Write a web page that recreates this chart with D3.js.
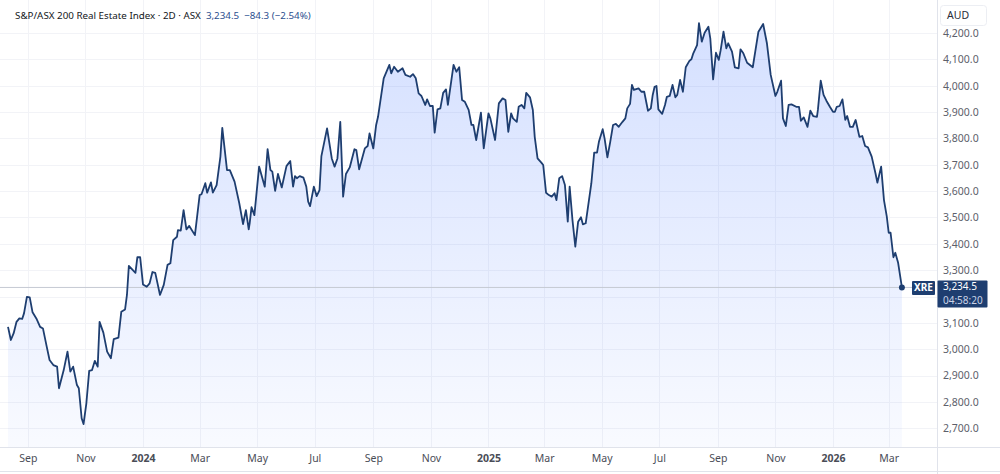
<!DOCTYPE html>
<html>
<head>
<meta charset="utf-8">
<script src="https://cdn.jsdelivr.net/npm/d3@7"></script>
<style>
  body { margin: 0; background: #fff; }
  svg { display: block; font-family: "Noto Sans", "DejaVu Sans", sans-serif; }
</style>
</head>
<body>
<svg width="1000" height="474"></svg>
<script>
var title = "S&P/ASX 200 Real Estate Index · 2D · ASX",
    lastText = "3,234.5",
    changeText = "\u221284.3 (\u22122.54%)",
    symbol = "XRE",
    currency = "AUD",
    countdown = "04:58:20";

var dates = [
  "2023-08-11","2023-08-14","2023-08-17","2023-08-20","2023-08-23","2023-08-26","2023-08-28","2023-08-31",
  "2023-09-03","2023-09-06","2023-09-10","2023-09-14","2023-09-17","2023-09-21","2023-09-24","2023-09-28",
  "2023-10-02","2023-10-04","2023-10-09","2023-10-13","2023-10-16","2023-10-19","2023-10-23","2023-10-25",
  "2023-10-28","2023-10-30","2023-11-02","2023-11-05","2023-11-08","2023-11-11","2023-11-14","2023-11-16",
  "2023-11-20","2023-11-24","2023-11-28","2023-12-01","2023-12-06","2023-12-09","2023-12-13","2023-12-15",
  "2023-12-17","2023-12-24","2023-12-26","2023-12-29","2024-01-01","2024-01-05","2024-01-08","2024-01-11",
  "2024-01-14","2024-01-19","2024-01-23","2024-01-27","2024-01-30","2024-02-02","2024-02-06","2024-02-07",
  "2024-02-10","2024-02-13","2024-02-16","2024-02-19","2024-02-25","2024-03-01","2024-03-03","2024-03-07",
  "2024-03-09","2024-03-13","2024-03-15","2024-03-19","2024-03-23","2024-03-25","2024-03-30","2024-04-02",
  "2024-04-07","2024-04-12","2024-04-16","2024-04-19","2024-04-22","2024-04-23","2024-04-25","2024-04-28",
  "2024-05-03","2024-05-09","2024-05-12","2024-05-15","2024-05-17","2024-05-20","2024-05-23","2024-05-27",
  "2024-06-01","2024-06-05","2024-06-08","2024-06-10","2024-06-12","2024-06-15","2024-06-19","2024-06-22",
  "2024-06-24","2024-06-26","2024-06-30","2024-07-03","2024-07-06","2024-07-08","2024-07-14","2024-07-19",
  "2024-07-22","2024-07-25","2024-07-28","2024-07-31","2024-08-03","2024-08-07","2024-08-12","2024-08-14",
  "2024-08-17","2024-08-23","2024-08-26","2024-08-28","2024-09-01","2024-09-04","2024-09-06","2024-09-12",
  "2024-09-18","2024-09-20","2024-09-23","2024-09-27","2024-10-02","2024-10-05","2024-10-10","2024-10-13",
  "2024-10-16","2024-10-19","2024-10-22","2024-10-26","2024-10-28","2024-10-31","2024-11-03","2024-11-05",
  "2024-11-08","2024-11-11","2024-11-14","2024-11-17","2024-11-19","2024-11-25","2024-11-28","2024-12-01",
  "2024-12-04","2024-12-07","2024-12-11","2024-12-14","2024-12-16","2024-12-19","2024-12-24","2024-12-27",
  "2025-01-01","2025-01-03","2025-01-08","2025-01-12","2025-01-16","2025-01-19","2025-01-22","2025-01-25",
  "2025-01-27","2025-01-31","2025-02-02","2025-02-05","2025-02-08","2025-02-10","2025-02-14","2025-02-17",
  "2025-02-19","2025-02-22","2025-02-26","2025-02-28","2025-03-03","2025-03-06","2025-03-09","2025-03-12",
  "2025-03-14","2025-03-17","2025-03-20","2025-03-23","2025-03-26","2025-03-28","2025-03-31","2025-04-03",
  "2025-04-06","2025-04-09","2025-04-11","2025-04-14","2025-04-20","2025-04-23","2025-04-26","2025-04-28",
  "2025-05-02","2025-05-04","2025-05-07","2025-05-10","2025-05-13","2025-05-16","2025-05-19","2025-05-23",
  "2025-05-26","2025-05-28","2025-05-31","2025-06-02","2025-06-04","2025-06-09","2025-06-12","2025-06-15",
  "2025-06-19","2025-06-22","2025-06-24","2025-06-26","2025-06-28","2025-06-30","2025-07-04","2025-07-07",
  "2025-07-09","2025-07-12","2025-07-15","2025-07-18","2025-07-20","2025-07-23","2025-07-26","2025-07-29",
  "2025-08-02","2025-08-04","2025-08-06","2025-08-10","2025-08-12","2025-08-15","2025-08-18","2025-08-22",
  "2025-08-24","2025-08-27","2025-08-30","2025-09-02","2025-09-04","2025-09-07","2025-09-10","2025-09-12",
  "2025-09-16","2025-09-19","2025-09-23","2025-09-25","2025-09-28","2025-10-02","2025-10-08","2025-10-14",
  "2025-10-19","2025-10-23","2025-10-27","2025-11-01","2025-11-03","2025-11-07","2025-11-09","2025-11-12",
  "2025-11-15","2025-11-18","2025-11-23","2025-11-26","2025-11-28","2025-12-01","2025-12-05","2025-12-08",
  "2025-12-11","2025-12-15","2025-12-16","2025-12-19","2025-12-22","2025-12-25","2025-12-29","2026-01-01",
  "2026-01-03","2026-01-05","2026-01-08","2026-01-11","2026-01-14","2026-01-16","2026-01-19","2026-01-22",
  "2026-01-25","2026-01-29","2026-02-01","2026-02-04","2026-02-07","2026-02-11","2026-02-15","2026-02-17",
  "2026-02-21","2026-02-24","2026-02-27","2026-03-01","2026-03-03","2026-03-06","2026-03-08","2026-03-11",
  "2026-03-15"
];

var closes = [
  3085,3035,3061,3104,3117,3115,3137,3199,
  3197,3140,3117,3085,3079,3010,2959,2940,
  2934,2852,2921,2991,2915,2934,2864,2852,
  2738,2716,2795,2918,2921,2956,2934,3104,
  3063,2991,2966,3038,3044,3142,3151,3206,
  3316,3290,3349,3349,3246,3237,3250,3293,
  3290,3206,3244,3320,3326,3414,3427,3452,
  3450,3528,3455,3468,3433,3585,3588,3630,
  3594,3633,3594,3623,3731,3840,3680,3680,
  3636,3554,3475,3528,3455,3478,3539,3509,
  3693,3617,3759,3680,3674,3601,3665,3614,
  3695,3714,3617,3657,3649,3657,3651,3617,
  3560,3543,3617,3581,3604,3733,3838,3724,
  3693,3724,3863,3579,3665,3690,3759,3756,
  3683,3762,3771,3819,3762,3851,3882,4028,
  4079,4047,4072,4053,4066,4041,4034,4044,
  4028,3971,3961,3927,3948,3923,3923,3822,
  3910,3914,3973,3986,3927,4079,4053,4070,
  3946,3939,3908,3851,3851,3794,3898,3762,
  3895,3876,3794,3933,3952,3946,3825,3895,
  3876,3863,3920,3927,3914,3973,3956,3908,
  3806,3724,3708,3699,3594,3585,3579,3592,
  3566,3649,3657,3623,3484,3617,3490,3389,
  3484,3501,3474,3478,3630,3746,3746,3787,
  3835,3800,3728,3787,3851,3855,3844,3863,
  3876,3914,3931,4003,3984,3990,3977,3977,
  3905,3914,3965,3996,3999,3910,3893,3927,
  3958,3961,4003,3956,3965,4022,3977,4070,
  4095,4100,4123,4154,4237,4167,4201,4224,
  4180,4024,4125,4098,4135,4205,4142,4161,
  4129,4070,4066,4138,4123,4087,4070,4205,
  4234,4161,4041,3961,3977,4019,3876,3847,
  3927,3929,3920,3920,3867,3880,3844,3905,
  3885,3882,3908,4019,3965,3943,3918,3901,
  3901,3920,3923,3948,3870,3885,3844,3844,
  3870,3806,3809,3771,3766,3731,3668,3632,
  3693,3566,3503,3442,3442,3349,3366,3328,
  3234.5
];

// grid levels; the 3,200 label sits under the last-price box, so it is not labelled
var priceTicks = [2700, 2800, 2900, 3000, 3100, 3200, 3300, 3400, 3500, 3600, 3700, 3800, 3900, 4000, 4100, 4200];
var priceLabels = [2700, 2800, 2900, 3000, 3100, 3300, 3400, 3500, 3600, 3700, 3800, 3900, 4000, 4100, 4200];

var svg = d3.select("svg"),
    W = 1000,
    H = 474,
    plotRight = 937,
    plotBottom = 447,
    navy = "#1e3e70",
    gridColor = "#f2f3f7",
    borderColor = "#e0e3eb";

var parse = d3.utcParse("%Y-%m-%d");
var data = dates.map(function(d, i) {
    return { date: parse(d), v: closes[i] };
});

var x = d3.scaleUtc()
    .domain([parse("2024-01-01"), parse("2026-01-01")])
    .range([143, 833]);

var y = d3.scaleLinear()
    .domain([2700, 4200])
    .range([428.3, 33]);

var monthTicks = d3.utcMonth.every(2).range(parse("2023-09-01"), parse("2026-03-02"));

// gradient for the area
var defs = svg.append("defs");
var grad = defs.append("linearGradient")
    .attr("id", "fill")
    .attr("gradientUnits", "userSpaceOnUse")
    .attr("x1", 0).attr("x2", 0)
    .attr("y1", 20).attr("y2", plotBottom);
grad.append("stop").attr("offset", "0%").attr("stop-color", "#2962ff").attr("stop-opacity", 0.2);
grad.append("stop").attr("offset", "100%").attr("stop-color", "#2962ff").attr("stop-opacity", 0.03);

// grid
var grid = svg.append("g");
grid.selectAll(".hg")
    .data(priceTicks)
    .enter().append("line")
    .attr("x1", 0).attr("x2", plotRight)
    .attr("y1", function(d) { return Math.round(y(d)) + 0.5; })
    .attr("y2", function(d) { return Math.round(y(d)) + 0.5; })
    .attr("stroke", gridColor);
grid.selectAll(".vg")
    .data(monthTicks)
    .enter().append("line")
    .attr("y1", 0).attr("y2", plotBottom)
    .attr("x1", function(d) { return Math.round(x(d)) + 0.5; })
    .attr("x2", function(d) { return Math.round(x(d)) + 0.5; })
    .attr("stroke", gridColor);

var area = d3.area()
    .x(function(d) { return x(d.date); })
    .y0(plotBottom)
    .y1(function(d) { return y(d.v); });

var line = d3.line()
    .x(function(d) { return x(d.date); })
    .y(function(d) { return y(d.v); });

svg.append("path")
    .datum(data)
    .attr("d", area)
    .attr("fill", "url(#fill)");

var last = data[data.length - 1],
    ly = y(last.v);

// last price line
svg.append("line")
    .attr("x1", 0).attr("x2", 912)
    .attr("y1", ly).attr("y2", ly)
    .attr("stroke", "#c5c9d3")
    .attr("stroke-width", 1);

svg.append("path")
    .datum(data)
    .attr("d", line)
    .attr("fill", "none")
    .attr("stroke", navy)
    .attr("stroke-width", 1.8)
    .attr("stroke-linejoin", "round");

svg.append("circle")
    .attr("cx", x(last.date))
    .attr("cy", ly)
    .attr("r", 3)
    .attr("fill", navy);

// borders
svg.append("line").attr("x1", plotRight + 0.5).attr("x2", plotRight + 0.5).attr("y1", 0).attr("y2", H).attr("stroke", borderColor);
svg.append("line").attr("x1", 0).attr("x2", W).attr("y1", plotBottom + 0.5).attr("y2", plotBottom + 0.5).attr("stroke", borderColor);
svg.append("line").attr("x1", 0).attr("x2", W).attr("y1", 471.5).attr("y2", 471.5).attr("stroke", borderColor);

// right price axis
var yAxis = svg.append("g")
    .attr("transform", "translate(" + plotRight + ",0)")
    .call(d3.axisRight(y).tickValues(priceLabels).tickSize(0).tickPadding(6).tickFormat(d3.format(",.1f")));
yAxis.select(".domain").remove();
yAxis.selectAll("text")
    .attr("fill", "#5d606b")
    .style("font-size", "10.5px")
    .style("font-family", "'Noto Sans', sans-serif");

// bottom time axis
var xAxis = svg.append("g")
    .attr("transform", "translate(0," + plotBottom + ")")
    .call(d3.axisBottom(x).tickValues(monthTicks).tickSize(0).tickPadding(8)
        .tickFormat(function(d) {
            return d.getUTCMonth() === 0 ? d3.utcFormat("%Y")(d) : d3.utcFormat("%b")(d);
        }));
xAxis.select(".domain").remove();
xAxis.selectAll("text")
    .attr("fill", "#4a4d57")
    .style("font-size", "10.5px")
    .style("font-family", "'Noto Sans', sans-serif")
    .style("font-weight", function(d) { return d.getUTCMonth() === 0 ? "bold" : "normal"; });

// currency box
svg.append("rect")
    .attr("x", 940.5).attr("y", 5.5).attr("width", 46).attr("height", 20).attr("rx", 3)
    .attr("fill", "#fff").attr("stroke", "#eceef3");
svg.append("text")
    .attr("x", 947).attr("y", 19)
    .attr("fill", "#2a2e39")
    .style("font-size", "10.5px")
    .text(currency);

// last value labels
svg.append("rect")
    .attr("x", 912).attr("y", ly - 6.5).attr("width", 23).attr("height", 14).attr("rx", 1)
    .attr("fill", navy);
svg.append("text")
    .attr("x", 923.5).attr("y", ly + 4)
    .attr("text-anchor", "middle")
    .attr("fill", "#fff")
    .style("font-size", "10px")
    .style("font-weight", "bold")
    .text(symbol);

svg.append("rect")
    .attr("x", 937.5).attr("y", ly - 7).attr("width", 50).attr("height", 27).attr("rx", 1)
    .attr("fill", navy);
svg.append("text")
    .attr("x", 943).attr("y", ly + 3)
    .attr("fill", "#fff")
    .style("font-size", "10px")
    .text(lastText);
svg.append("text")
    .attr("x", 943).attr("y", ly + 16.5)
    .attr("fill", "#c9d3e6")
    .style("font-size", "10px")
    .text(countdown);

// header
var head = svg.append("text")
    .attr("x", 15).attr("y", 19)
    .style("font-size", "9.8px");
head.append("tspan").attr("fill", "#131722").text(title);
head.append("tspan").attr("dx", 5).attr("fill", "#2c4f8f").text(lastText);
head.append("tspan").attr("dx", 5).attr("fill", "#2c4f8f").text(changeText);
</script>
</body>
</html>
